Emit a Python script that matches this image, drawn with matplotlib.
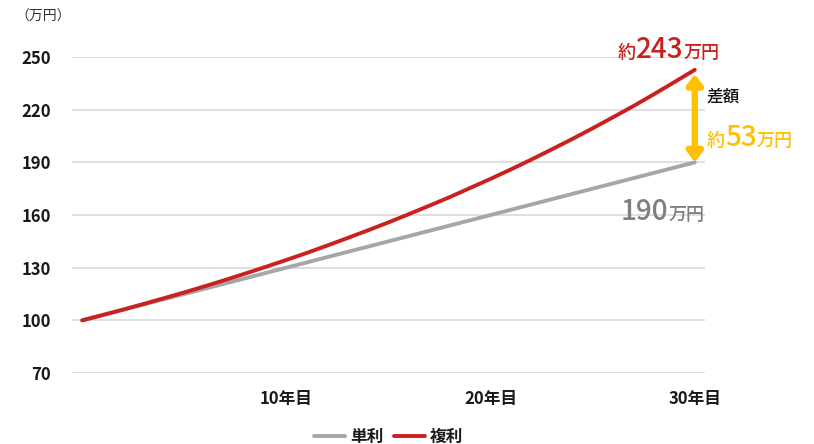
import matplotlib
matplotlib.use("Agg")
import matplotlib.pyplot as plt

plt.rcParams['font.family'] = ['Noto Sans CJK JP', 'DejaVu Sans']

# 年数 0..30
years = list(range(31))
# 単利 (万円)
simple = [100, 103, 106, 109, 112, 115, 118, 121, 124, 127, 130,
          133, 136, 139, 142, 145, 148, 151, 154, 157, 160,
          163, 166, 169, 172, 175, 178, 181, 184, 187, 190]
# 複利 (万円)
compound = [100, 103.0, 106.1, 109.3, 112.6, 115.9, 119.4, 123.0, 126.7, 130.5, 134.4,
            138.4, 142.6, 146.9, 151.3, 155.8, 160.5, 165.3, 170.2, 175.4, 180.6,
            186.0, 191.6, 197.4, 203.3, 209.4, 215.7, 222.1, 228.8, 235.7, 242.7]
yticks = [70, 100, 130, 160, 190, 220, 250]
xtick_pos = [10, 20, 30]
xtick_labels = ['10年目', '20年目', '30年目']

red = '#c9211e'
grey = '#a6a6a6'
orange = '#ffc000'

fig = plt.figure(figsize=(8.14, 4.44), dpi=100)
ax = fig.add_axes([72 / 814, 1 - 373 / 444, (705 - 72) / 814, (373 - 57) / 444])

ax.plot(years, simple, color=grey, lw=2.8, label='単利', solid_capstyle='round')
ax.plot(years, compound, color=red, lw=2.8, label='複利', solid_capstyle='round')

ax.set_xlim(-0.5, 30.5)
ax.set_ylim(70, 250)
ax.set_yticks(yticks)
ax.set_xticks(xtick_pos)
ax.set_xticklabels(xtick_labels)
ax.grid(axis='y', color='#d9d9d9', lw=1.2)
ax.set_axisbelow(True)
for s in ax.spines.values():
    s.set_visible(False)
ax.tick_params(length=0)
ax.tick_params(axis='y', pad=15, labelsize=12)
ax.tick_params(axis='x', pad=12, labelsize=12)
for lab in ax.get_xticklabels() + ax.get_yticklabels():
    lab.set_fontweight('bold')
    lab.set_color('#1a1a1a')

fig.text(15 / 814, 1 - 17 / 444, '（万円）', fontsize=10, va='center', ha='left', color='#333333')

leg = ax.legend(loc='upper center', bbox_to_anchor=(0.5, -0.125), ncol=2, frameon=False,
                fontsize=12, handlelength=1.9, handletextpad=0.3, columnspacing=0.6)
for t in leg.get_texts():
    t.set_fontweight('bold')
    t.set_color('#1a1a1a')

# 差額の矢印
ax.annotate('', xy=(30, simple[-1]), xytext=(30, compound[-1]),
            arrowprops=dict(arrowstyle='<|-|>,head_width=0.45,head_length=0.6',
                            color=orange, lw=4.5, shrinkA=3, shrinkB=0))


def piece_text(x, y, dx, dy, parts):
    # parts: list of (text, size, color); drawn left to right from pixel offset
    fig.canvas.draw()
    r = fig.canvas.get_renderer()
    off = dx
    for txt, size, col in parts:
        t = ax.annotate(txt, xy=(x, y), xytext=(off, dy), textcoords='offset pixels',
                        fontsize=size, color=col, ha='left', va='baseline', fontweight='medium')
        bb = t.get_window_extent(renderer=r)
        off += bb.width


piece_text(30, compound[-1], -77, 12, [('約', 13, red), ('243', 20, red), ('万円', 13, red)])
piece_text(30, compound[-1], 12, -32, [('差額', 12, '#111111')])
piece_text(30, compound[-1], 12, -76, [('約', 13, orange), ('53', 20, orange), ('万円', 13, orange)])
piece_text(30, simple[-1], -74, -58, [('190', 20, '#7f7f7f'), ('万円', 13, '#7f7f7f')])

fig.savefig('out.png', dpi=100)
